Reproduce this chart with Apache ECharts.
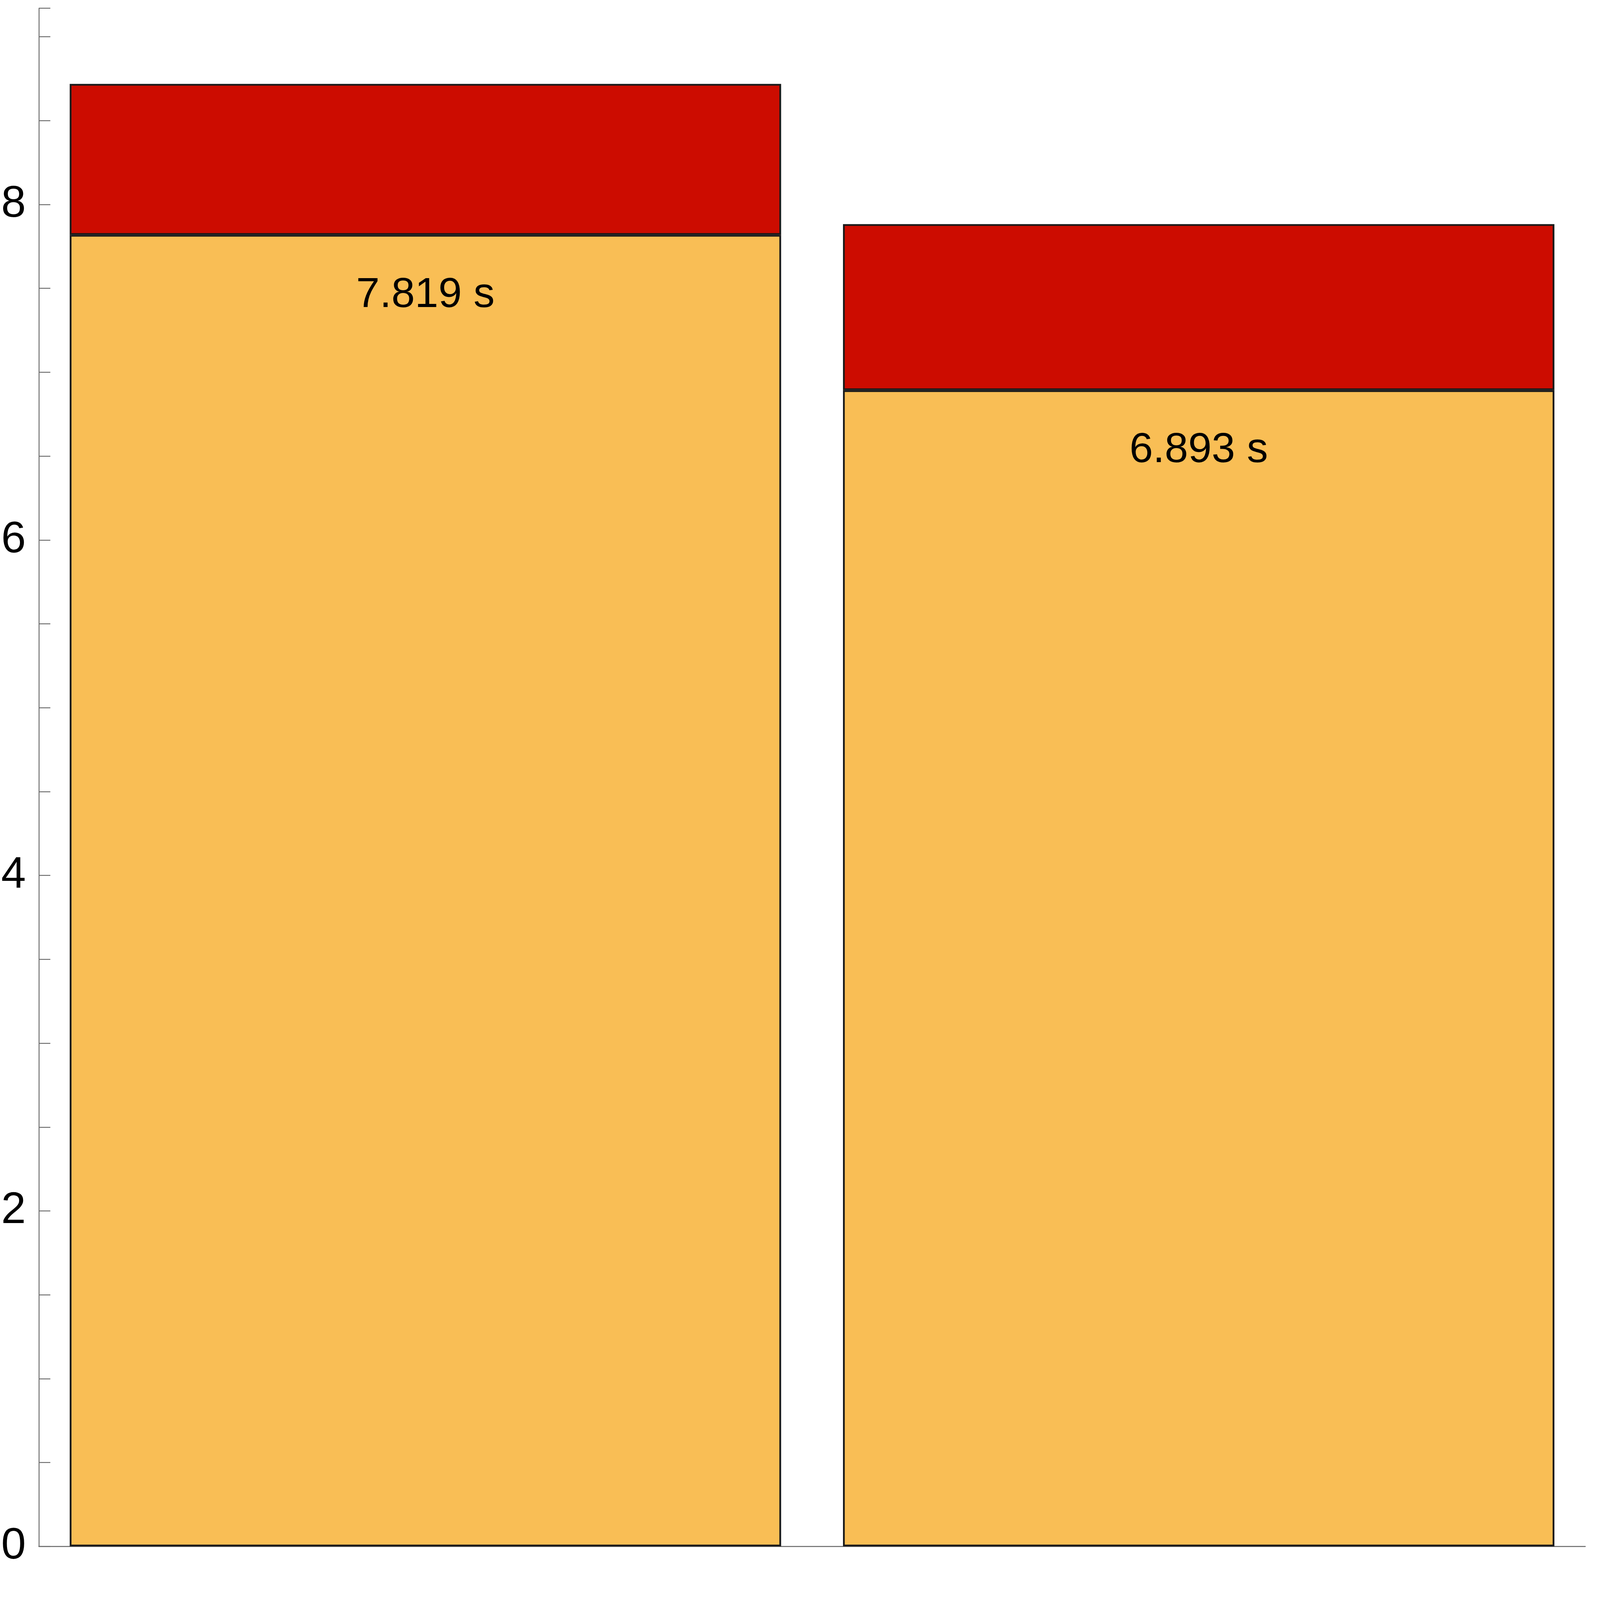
<!DOCTYPE html>
<html>
<head>
<meta charset="utf-8">
<script src="https://cdn.jsdelivr.net/npm/echarts@6/dist/echarts.min.js"></script>
<style>html,body{margin:0;padding:0;background:#fff;overflow:hidden}#main{width:100vw;height:100vh}</style>
</head>
<body>
<div id="main"></div>
<script>
var categories = ['v0.0.8', 'Multithread'];
var baseTimes = [7.819, 6.893];
var extraTimes = [0.90, 0.99];
var yTicks = [0, 2, 4, 6, 8];

// sizes were measured on a 7200 px wide picture; scale to the real viewport
var s = window.innerWidth / 7200;
var sy = window.innerHeight / 4480;
var chart = echarts.init(document.getElementById('main'));
var font = 'Liberation Sans, Arial, sans-serif';
var option = {
	animation: false,
	grid: {left: 148 * s, right: 66 * s, top: 23 * sy, bottom: 150 * sy, containLabel: false},
	xAxis: {
		type: 'category',
		data: categories,
		axisLine: {lineStyle: {color: '#666', width: 4 * s}},
		axisTick: {show: false},
		axisLabel: {inside: true, margin: 190 * sy, fontSize: 190 * s, color: '#000', fontFamily: font}
	},
	yAxis: {
		type: 'value',
		min: 0,
		max: 9.17,
		interval: 2,
		splitLine: {show: false},
		axisLine: {show: true, lineStyle: {color: '#666', width: 4 * s}},
		axisTick: {show: true, inside: true, length: 52 * s, lineStyle: {color: '#666', width: 4 * s}},
		minorTick: {show: true, splitNumber: 4, length: 52 * s, lineStyle: {color: '#666', width: 4 * s}},
		axisLabel: {
			margin: 58 * s, fontSize: 200 * s, color: '#000', fontFamily: font,
			formatter: function (v) { return yTicks.indexOf(v) >= 0 ? String(v) : ''; }
		}
	},
	series: [
		{
			type: 'bar', stack: 't', data: baseTimes, barCategoryGap: '8%',
			itemStyle: {color: '#F9BE55', borderColor: '#1a1a1a', borderWidth: 8 * s},
			label: {
				show: true, position: 'insideTop', distance: 110 * sy, fontSize: 190 * s,
				color: '#000', fontFamily: font,
				formatter: function (p) { return p.value.toFixed(3) + ' s'; }
			}
		},
		{
			type: 'bar', stack: 't', data: extraTimes,
			itemStyle: {color: '#CC0C00', borderColor: '#1a1a1a', borderWidth: 8 * s}
		}
	]
};
chart.setOption(option);
</script>
</body>
</html>
